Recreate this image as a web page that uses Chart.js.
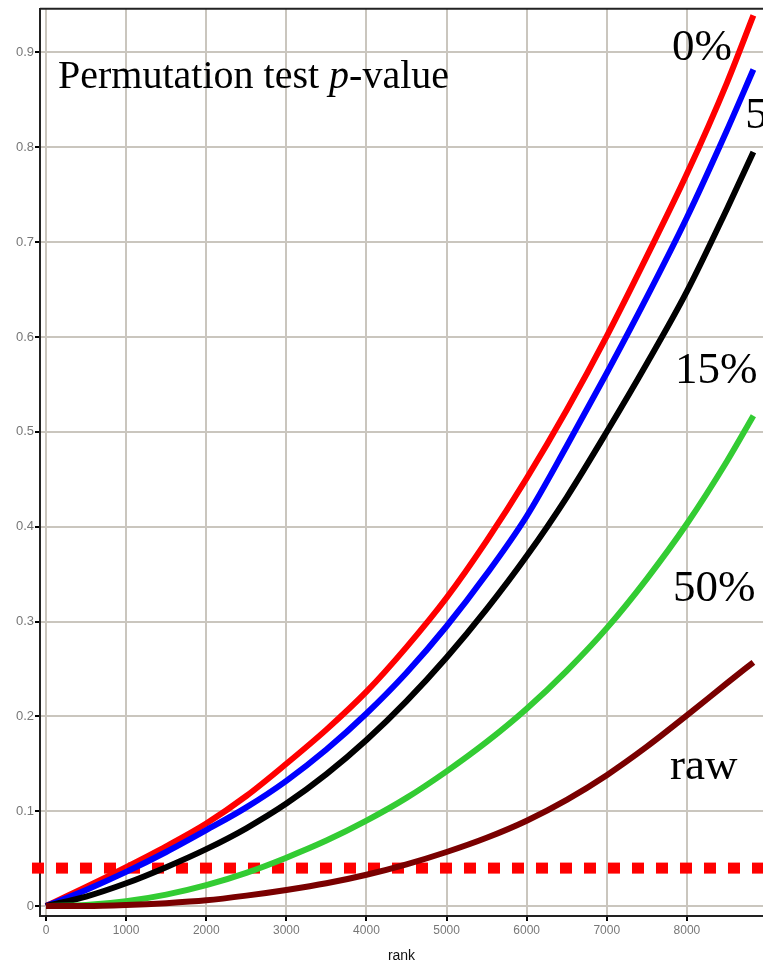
<!DOCTYPE html>
<html>
<head>
<meta charset="utf-8">
<script src="https://cdn.jsdelivr.net/npm/chart.js@4.4.1/dist/chart.umd.min.js"></script>
<style>
  html, body { margin: 0; padding: 0; background: #fff; }
  #wrap { width: 763px; height: 969px; }
</style>
</head>
<body>
<div id="wrap"><canvas id="canvas" width="763" height="969"></canvas></div>
<script>
// rank positions where the curves were read
const ranks = [0, 500, 1000, 1500, 2000, 2500, 3000, 3500, 4000, 4500,
  5000, 5500, 6000, 6500, 7000, 7500, 8000, 8500, 8830];

// permutation p-values for each trimming level
const p0 = [0, 0.020, 0.041, 0.063, 0.087, 0.116, 0.150, 0.186, 0.226, 0.273,
  0.325, 0.385, 0.451, 0.523, 0.601, 0.685, 0.772, 0.868, 0.939];
const p5 = [0, 0.017, 0.036, 0.057, 0.080, 0.104, 0.132, 0.165, 0.203, 0.246,
  0.295, 0.350, 0.411, 0.485, 0.562, 0.642, 0.726, 0.818, 0.882];
const p15 = [0, 0.010, 0.024, 0.041, 0.060, 0.082, 0.108, 0.139, 0.175, 0.216,
  0.262, 0.313, 0.369, 0.431, 0.500, 0.572, 0.648, 0.735, 0.795];
const p50 = [0, 0.001, 0.005, 0.012, 0.022, 0.035, 0.051, 0.069, 0.090, 0.114,
  0.142, 0.173, 0.208, 0.248, 0.293, 0.345, 0.403, 0.469, 0.517];
const pRaw = [0, 0, 0.001, 0.003, 0.006, 0.011, 0.017, 0.024, 0.033, 0.044,
  0.057, 0.072, 0.090, 0.112, 0.138, 0.168, 0.201, 0.235, 0.257];

// threshold line
const cutoff = 0.04;
const cutoffRanks = [-175, 8950];

// tick labels
const xTicks = [0, 1000, 2000, 3000, 4000, 5000, 6000, 7000, 8000];
const yTicks = [0, 0.1, 0.2, 0.3, 0.4, 0.5, 0.6, 0.7, 0.8, 0.9];

// curve labels on the right
const labelTexts = ['0%', '5%', '15%', '50%', 'raw'];
const labelRanks = [7815, 8727, 7850, 7828, 7790];
const labelValues = [0.8925, 0.82, 0.551, 0.322, 0.134];

const toPoints = (ys) => ranks.map((r, i) => ({ x: r, y: ys[i] }));

function curve(label, ys, color) {
  return {
    label: label,
    data: toPoints(ys),
    borderColor: color,
    backgroundColor: color,
    borderWidth: 6,
    pointRadius: 0,
    cubicInterpolationMode: 'monotone',
  };
}

// texts drawn over the grid
const textPlugin = {
  id: 'texts',
  beforeDatasetsDraw(chart) {
    const ctx = chart.ctx;
    const xs = chart.scales.x, ys = chart.scales.y;
    const area = chart.chartArea;
    ctx.save();
    // top frame line
    ctx.strokeStyle = '#222';
    ctx.lineWidth = 2;
    ctx.beginPath();
    ctx.moveTo(area.left, area.top);
    ctx.lineTo(area.right, area.top);
    ctx.stroke();

    ctx.fillStyle = '#000';
    ctx.textBaseline = 'alphabetic';
    ctx.textAlign = 'left';
    // title with italic p
    let x = xs.getPixelForValue(150);
    const y = ys.getPixelForValue(0.863);
    const parts = [['Permutation test ', ''], ['p', 'italic '], ['-value', '']];
    parts.forEach(([t, st]) => {
      ctx.font = st + '40px "Liberation Serif", "Times New Roman", serif';
      ctx.fillText(t, x, y);
      x += ctx.measureText(t).width;
    });
    ctx.font = '45px "Liberation Serif", "Times New Roman", serif';
    labelTexts.forEach((t, i) => {
      ctx.fillText(t, xs.getPixelForValue(labelRanks[i]), ys.getPixelForValue(labelValues[i]));
    });
    ctx.restore();
  }
};

const data = {
  datasets: [
    curve('raw', pRaw, '#7a0000'),
    curve('50%', p50, '#33cc33'),
    curve('15%', p15, '#000000'),
    curve('5%', p5, '#0000ff'),
    curve('0%', p0, '#ff0000'),
    {
      label: 'cutoff',
      data: cutoffRanks.map(r => ({ x: r, y: cutoff })),
      borderColor: '#ff0000',
      borderWidth: 11,
      borderDash: [12, 12],
      borderCapStyle: 'butt',
      pointRadius: 0,
      clip: false,
    },
  ],
};

const tickFont = { family: '"Liberation Sans", Arial, sans-serif', size: 12 };

const config = {
  type: 'line',
  data: data,
  options: {
    responsive: false,
    animation: false,
    layout: { padding: { top: 8, right: 0, left: 0, bottom: 0 } },
    plugins: { legend: { display: false }, tooltip: { enabled: false } },
    scales: {
      x: {
        type: 'linear',
        min: -75,
        max: 8950,
        afterBuildTicks(scale) { scale.ticks = xTicks.map(v => ({ value: v })); },
        ticks: {
          autoSkip: false,
          maxRotation: 0,
          color: '#777',
          font: tickFont,
          padding: 2,
          callback: (v) => String(v),
        },
        grid: { color: '#cac6be', lineWidth: 2, tickColor: '#000', tickLength: 5 },
        border: { color: '#222', width: 2 },
        title: { display: true, text: 'rank', color: '#111', font: { family: '"Liberation Sans", Arial, sans-serif', size: 14 }, padding: { top: 9 } },
        afterFit(scale) { scale.height = 53; },
      },
      y: {
        min: -0.0105,
        max: 0.946,
        afterBuildTicks(scale) { scale.ticks = yTicks.map(v => ({ value: v })); },
        ticks: {
          autoSkip: false,
          color: '#777',
          font: { family: '"Liberation Sans", Arial, sans-serif', size: 13 },
          padding: 1,
          callback: (v) => String(v),
        },
        grid: { color: '#cac6be', lineWidth: 2, tickColor: '#000', tickLength: 5 },
        border: { color: '#222', width: 2 },
        afterFit(scale) { scale.width = 40; },
      },
    },
  },
  plugins: [textPlugin],
};

const canvas = document.getElementById('canvas');
const chart = new Chart(canvas, config);
</script>
</body>
</html>
